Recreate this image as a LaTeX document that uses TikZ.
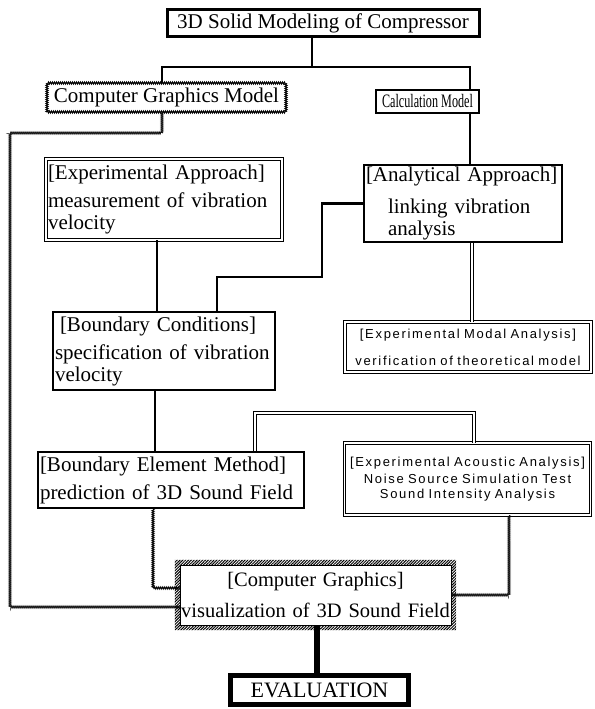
\documentclass[tikz,border=0pt]{standalone}
\usepackage{graphicx}
\usepackage{fontspec}
\setmainfont{Liberation Serif}
\newfontfamily\spacedsans[LetterSpace=13]{Liberation Sans}
\usetikzlibrary{decorations.pathmorphing,patterns.meta}

\begin{document}
\begin{tikzpicture}[x=1pt,y=-1pt,
    every node/.style={inner sep=2pt,font=\fontsize{21}{22}\selectfont},
    heavy/.style={draw,line width=2.5pt},
    dbl/.style={draw,double,line width=0.9pt,double distance=1.6pt},
    wavy/.style={draw,line width=0.9pt,decorate,
      decoration={zigzag,amplitude=1.1pt,segment length=2pt}},
    sans/.style={font=\spacedsans\fontsize{13}{15}\selectfont,align=center}]
        \useasboundingbox (0,0) rectangle (594,709);
        \draw (323,23.5) node[heavy,line width=3pt,minimum width=312pt,minimum height=27pt](solid){3D Solid Modeling of Compressor};
        \draw (166.5,97.5) node[wavy,minimum width=239pt,minimum height=29pt](cgmodel){Computer Graphics Model};
        \draw (427.5,101.5) node[heavy,minimum width=103pt,minimum height=23pt,inner sep=0pt,
          font=\fontsize{19}{20}\selectfont](calc){\scalebox{0.64}[1]{Calculation Model}};
        \draw (164,199.5) node[dbl,text width=232pt,minimum height=81pt,align=left](expappr){[Experimental Approach]\\[6pt]
          measurement of vibration\\ velocity};
        \draw (463,203.5) node[heavy,text width=194pt,minimum height=77pt,align=left](analyt){[Analytical Approach]\\[10pt]
          \hspace*{22pt}linking vibration\\ \hspace*{22pt}analysis};
        \draw (164,351) node[heavy,text width=218pt,minimum height=78pt,align=left](bcond){\hspace*{5pt}[Boundary Conditions]\\[6pt]
          specification of vibration\\ velocity};
        \draw (468,347) node[dbl,sans,text width=242pt,minimum height=50pt](expmodal){[Experimental Modal Analysis]\\[12pt]
          verification of theoretical model};
        \draw (171,480) node[heavy,text width=262pt,minimum height=56pt,align=left](bem){[Boundary Element Method]\\[6pt]
          prediction of 3D Sound Field};
        \draw (467.5,479) node[dbl,sans,text width=242pt,minimum height=72pt](expacou){[Experimental Acoustic Analysis]\\[2pt]
          Noise Source Simulation Test\\ Sound Intensity Analysis};
        \draw (315.5,595) node[draw,thin,text width=271pt,minimum height=60pt,inner sep=0pt,align=center,
          font=\fontsize{20.5}{22}\selectfont](cgviz){[Computer Graphics]\\[9pt]
          visualization of 3D Sound Field};
        \draw (319.5,690) node[heavy,line width=5pt,minimum width=178pt,minimum height=29pt,
          font=\fontsize{22}{24}\selectfont](eval){EVALUATION};
        % hatched frame round the graphics box
        \fill[pattern={Lines[angle=45,distance=2pt,line width=1pt]},even odd rule]
          ([shift={(-5pt,5pt)}]cgviz.north west) rectangle ([shift={(5pt,-5pt)}]cgviz.south east)
          (cgviz.north west) rectangle (cgviz.south east);
        \coordinate (fork) at (312,67);
        \coordinate (forkl) at (162,67);
        \coordinate (forkr) at (470,67);
        \coordinate (cgturn) at (10,133);
        \coordinate (expline) at (157,276);
        \coordinate (anturn) at (322,277);
        \coordinate (anbc) at (217,295);
        \coordinate (amline) at (472,280);
        \coordinate (bcline) at (155,421);
        \coordinate (bemturn) at (255,413);
        \coordinate (eaturn) at (474,413);
        \coordinate (bemline) at (153,540);
        \coordinate (ealine) at (509,540);
        \coordinate (evline) at (317,650);
        \draw[line width=2.5pt]
          (solid.south -| fork) -- (fork)
          (cgmodel.north -| forkl) -- (forkl) -- (forkr) -- (calc.north -| forkr)
          (calc.south -| forkr) -- (analyt.north -| forkr)
          (expappr.south -| expline) -- (bcond.north -| expline)
          (analyt.west) -| (anturn) -| (bcond.north -| anbc)
          (bcond.south -| bcline) -- (bem.north -| bcline)
        ;
        \draw[dbl] (analyt.south -| amline) -- (expmodal.north -| amline);
        \draw[dbl] (bem.north -| bemturn) |- (eaturn) -- (expacou.north -| eaturn);
        \draw[wavy] (cgmodel.south -| forkl) |- (cgturn) |- ([yshift=-12pt]cgviz.west);
        \draw[wavy] (bem.south -| bemline) |- ([yshift=7pt]cgviz.west);
        \draw[wavy] (expacou.south -| ealine) |- (cgviz.east);
        \draw[line width=6pt] (cgviz.south -| evline) -- (eval.north -| evline);
      \end{tikzpicture}
\end{document}
